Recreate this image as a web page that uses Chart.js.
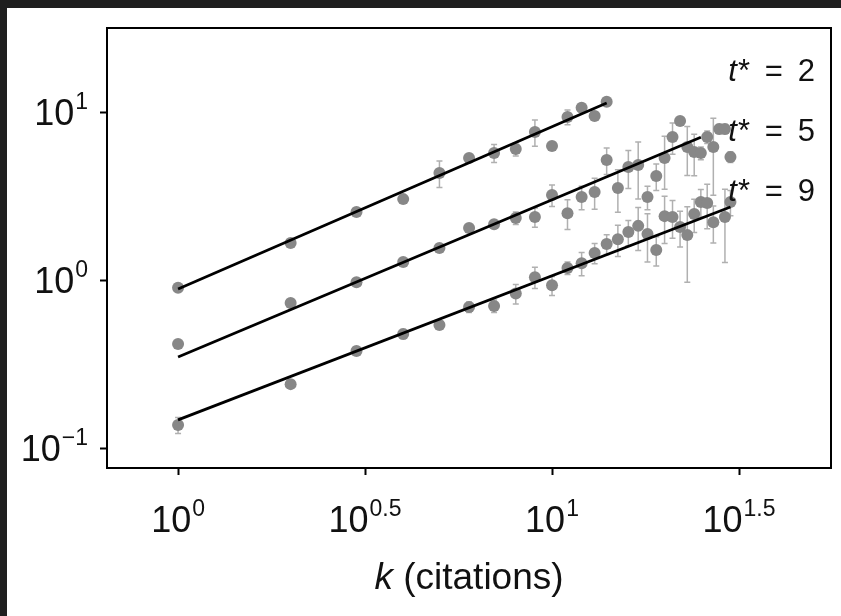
<!DOCTYPE html>
<html>
<head>
<meta charset="utf-8">
<script src="https://cdn.jsdelivr.net/npm/chart.js@4"></script>
<style>
  html, body { margin: 0; padding: 0; background: #1f1f1f; }
  #wrap { position: absolute; left: 7px; top: 8px; width: 834px; height: 608px; background: #fff; }
</style>
</head>
<body>
<div id="wrap"><canvas id="chart" width="834" height="608"></canvas></div>
<script>
// k (citations) shared by every series
const citations = [1, 2, 3, 4, 5, 6, 7, 8, 9, 10, 11, 12, 13, 14, 15,
                   16, 17, 18, 19, 20, 21, 22, 23, 24, 25, 26, 27, 28, 29, 30];

// mean value per k, null where no point is drawn
const meanT2 = [0.90, 1.66, 2.54, 3.03, 4.33, 5.32, 5.70, 6.02, 7.60, 6.28, 9.34, 10.6, 9.47, 11.5,
                null, null, null, null, null, null, null, null, null, null, null, null, null, null, null, null];
const meanT5 = [0.416, 0.73, 0.97, 1.28, 1.55, 2.04, 2.15, 2.34, 2.37, 3.21, 2.50, 3.12, 3.34, 5.18, 3.53,
                4.71, 4.84, 3.12, 4.16, 5.32, 7.10, 8.84, 6.19, 5.78, 5.70, 7.10, 6.19, 7.92, 7.92, 5.40];
const meanT9 = [0.137, 0.240, 0.378, 0.477, 0.54, 0.69, 0.70, 0.83, 1.04, 0.93, 1.18, 1.26, 1.45, 1.64, 1.75,
                1.93, 2.10, 1.88, 1.51, 2.40, 2.37, 2.07, 1.85, 2.47, 2.91, 2.87, 2.21, null, 2.37, 2.91];

// standard errors
const errT2 = [0.02, 0.04, 0.08, 0.12, 0.78, 0.3, 0.7, 0.55, 1.35, 0.2, 0.95, 0.6, 0.5, 0.4,
               null, null, null, null, null, null, null, null, null, null, null, null, null, null, null, null];
const errT5 = [0.01, 0.02, 0.03, 0.05, 0.08, 0.1, 0.1, 0.2, 0.31, 0.47, 0.5, 0.5, 0.7, 0.93, 1.0,
               1.2, 1.8, 0.5, 0.75, 1.85, 1.5, 0.5, 2.0, 1.6, 0.5, 0.6, 3.0, 0.5, 0.5, 0.4];
const errT9 = [0.015, 0.01, 0.02, 0.03, 0.03, 0.05, 0.06, 0.11, 0.15, 0.12, 0.1, 0.2, 0.2, 0.22, 0.37,
               0.33, 0.6, 0.6, 0.3, 0.75, 0.6, 0.5, 0.88, 0.55, 0.55, 0.85, 0.55, null, 1.1, 0.5];

// power-law fits  y = a * k^b  over k = 1..kMax
const seriesNames = ['2', '5', '9'];
const fitCoef = [0.884, 0.348, 0.147];
const fitExp = [0.966, 0.936, 0.858];
const fitKMax = [14, 25, 30];

// axis ticks, as powers of ten
const xTickExps = ['0', '0.5', '1', '1.5'];
const yTickExps = ['1', '0', '\u22121'];

function points(means, errs) {
  return citations
    .map((k, i) => means[i] == null ? null : { x: k, y: means[i], e: errs[i] })
    .filter(p => p);
}

function fitLine(i) {
  return [1, fitKMax[i]].map(k => ({ x: k, y: fitCoef[i] * Math.pow(k, fitExp[i]) }));
}

function expValue(e) {
  return Math.pow(10, parseFloat(e.replace('\u2212', '-')));
}

const FONT = '"Liberation Sans", Arial, Helvetica, sans-serif';

const errorBars = {
  id: 'errorBars',
  beforeDatasetsDraw(chart) {
    const { ctx, chartArea, scales: { x, y } } = chart;
    ctx.save();
    ctx.beginPath();
    ctx.rect(chartArea.left, chartArea.top, chartArea.width, chartArea.height);
    ctx.clip();
    ctx.strokeStyle = '#b0b0b0';
    ctx.lineWidth = 1.5;
    chart.data.datasets.forEach(ds => {
      if (ds.type !== 'scatter') return;
      ds.data.forEach(p => {
        if (!p.e) return;
        const px = x.getPixelForValue(p.x);
        const top = y.getPixelForValue(p.y + p.e);
        const bot = y.getPixelForValue(Math.max(p.y - p.e, 0.001));
        ctx.beginPath();
        ctx.moveTo(px, top); ctx.lineTo(px, bot);
        ctx.moveTo(px - 3, top); ctx.lineTo(px + 3, top);
        ctx.moveTo(px - 3, bot); ctx.lineTo(px + 3, bot);
        ctx.stroke();
      });
    });
    ctx.restore();
  }
};

function drawPower(ctx, exp, px, baseline, align) {
  ctx.font = '36px ' + FONT;
  const wBase = ctx.measureText('10').width;
  ctx.font = '23px ' + FONT;
  const wExp = ctx.measureText(exp).width;
  const total = wBase + 1 + wExp;
  const left = align === 'right' ? px - total : px - total / 2;
  ctx.textAlign = 'left';
  ctx.textBaseline = 'alphabetic';
  ctx.font = '36px ' + FONT;
  ctx.fillText('10', left, baseline);
  ctx.font = '23px ' + FONT;
  ctx.fillText(exp, left + wBase + 1, baseline - 16);
}

const frameAndText = {
  id: 'frameAndText',
  afterDraw(chart) {
    const { ctx, chartArea: a, scales: { x, y } } = chart;
    ctx.save();
    ctx.strokeStyle = '#000';
    ctx.lineWidth = 2;
    ctx.strokeRect(a.left, a.top, a.width, a.height);
    ctx.fillStyle = '#111';

    xTickExps.forEach(e => {
      drawPower(ctx, e, x.getPixelForValue(expValue(e)), a.bottom + 64, 'center');
    });
    yTickExps.forEach(e => {
      drawPower(ctx, e, a.left - 19, y.getPixelForValue(expValue(e)) + 13, 'right');
    });

    // axis title
    const size = 37;
    ctx.font = 'italic ' + size + 'px ' + FONT;
    const wk = ctx.measureText('k').width;
    ctx.font = size + 'px ' + FONT;
    const rest = ' (citations)';
    const wr = ctx.measureText(rest).width;
    const cx = (a.left + a.right) / 2;
    const start = cx - (wk + wr) / 2;
    ctx.textAlign = 'left';
    ctx.font = 'italic ' + size + 'px ' + FONT;
    ctx.fillText('k', start, a.bottom + 121);
    ctx.font = size + 'px ' + FONT;
    ctx.fillText(rest, start + wk, a.bottom + 121);

    // series labels
    seriesNames.forEach((n, i) => {
      const base = a.top + 53 + i * 60;
      const right = a.right - 16;
      const tail = '*\u2009 =\u2009 ' + n;
      ctx.font = '31px ' + FONT;
      const wt = ctx.measureText(tail).width;
      ctx.fillText(tail, right - wt, base);
      ctx.font = 'italic 31px ' + FONT;
      const wi = ctx.measureText('t').width;
      ctx.fillText('t', right - wt - wi - 1, base);
    });
    ctx.restore();
  }
};

function scatterSet(means, errs) {
  return {
    type: 'scatter',
    data: points(means, errs),
    backgroundColor: '#878787',
    borderWidth: 0,
    pointRadius: 6,
    order: 2
  };
}

function lineSet(i) {
  return {
    type: 'line',
    data: fitLine(i),
    borderColor: '#000',
    borderWidth: 2.8,
    pointRadius: 0,
    fill: false,
    order: 1
  };
}

const axisGrid = {
  display: true,
  drawOnChartArea: false,
  drawTicks: true,
  tickLength: 7,
  tickColor: '#000',
  tickWidth: 2
};

new Chart(document.getElementById('chart').getContext('2d'), {
  data: {
    datasets: [
      scatterSet(meanT2, errT2),
      scatterSet(meanT5, errT5),
      scatterSet(meanT9, errT9),
      lineSet(0), lineSet(1), lineSet(2)
    ]
  },
  options: {
    responsive: false,
    animation: false,
    layout: { padding: { left: 93, top: 20, right: 10, bottom: 141 } },
    plugins: { legend: { display: false }, tooltip: { enabled: false } },
    scales: {
      x: {
        type: 'logarithmic',
        bounds: 'data',
        min: Math.pow(10, -0.19),
        max: Math.pow(10, 1.746),
        grid: axisGrid,
        border: { display: false },
        ticks: { display: false },
        afterBuildTicks: s => { s.ticks = xTickExps.map(e => ({ value: expValue(e) })); }
      },
      y: {
        type: 'logarithmic',
        bounds: 'data',
        min: Math.pow(10, -1.119),
        max: Math.pow(10, 1.5),
        grid: axisGrid,
        border: { display: false },
        ticks: { display: false },
        afterBuildTicks: s => { s.ticks = yTickExps.map(e => ({ value: expValue(e) })); }
      }
    }
  },
  plugins: [errorBars, frameAndText]
});
</script>
</body>
</html>
